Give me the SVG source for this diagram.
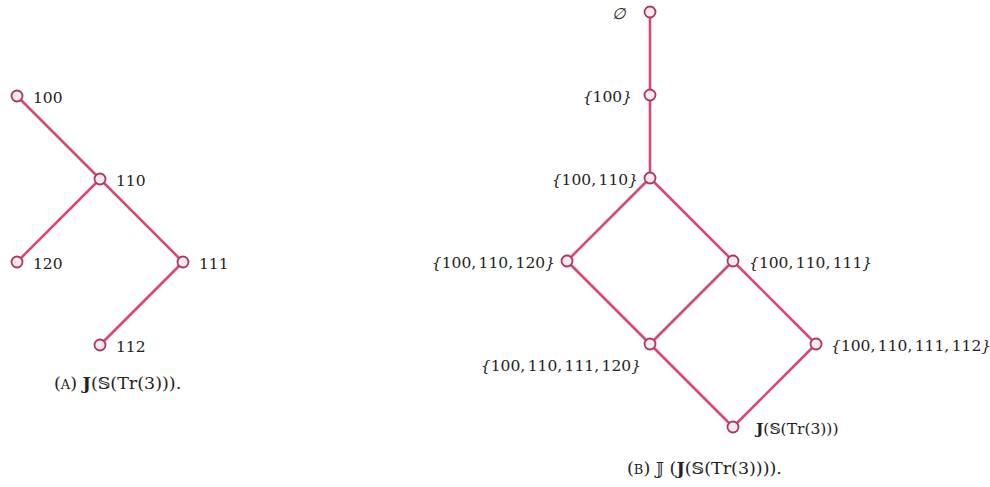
<svg xmlns="http://www.w3.org/2000/svg" width="990" height="487" viewBox="0 0 990 487">
<style>
.e{stroke:#d8496f;stroke-width:2.6;fill:none;stroke-linecap:round}
.n{fill:#f6eaef;stroke:#a8385f;stroke-width:1.8}
text{font-family:"DejaVu Serif","Liberation Serif",serif;font-size:15.5px;fill:#222}
.it{font-style:italic}
.b{font-weight:bold}
.sc{font-size:13px}
.set{word-spacing:-2.5px}
.cap{font-size:17.5px}
</style>
<rect width="990" height="487" fill="#fff"/>
<g id="edges">
<line class="e" x1="17" y1="96" x2="100" y2="179"/>
<line class="e" x1="100" y1="179" x2="17" y2="262"/>
<line class="e" x1="100" y1="179" x2="183" y2="262"/>
<line class="e" x1="183" y1="262" x2="100" y2="345"/>
<line class="e" x1="650" y1="12" x2="650" y2="95"/>
<line class="e" x1="650" y1="95" x2="650" y2="178"/>
<line class="e" x1="650" y1="178" x2="567" y2="261"/>
<line class="e" x1="650" y1="178" x2="733" y2="261"/>
<line class="e" x1="567" y1="261" x2="650" y2="344"/>
<line class="e" x1="733" y1="261" x2="650" y2="344"/>
<line class="e" x1="733" y1="261" x2="816" y2="344"/>
<line class="e" x1="650" y1="344" x2="733" y2="427"/>
<line class="e" x1="816" y1="344" x2="733" y2="427"/>
</g>
<g id="a100"><circle class="n" cx="17" cy="96" r="5.5"/><text x="33" y="103">100</text></g>
<g id="a110"><circle class="n" cx="100" cy="179" r="5.5"/><text x="116" y="186">110</text></g>
<g id="a120"><circle class="n" cx="17" cy="262" r="5.5"/><text x="33" y="269">120</text></g>
<g id="a111"><circle class="n" cx="183" cy="262" r="5.5"/><text x="199" y="269">111</text></g>
<g id="a112"><circle class="n" cx="100" cy="345" r="5.5"/><text x="116" y="352">112</text></g>
<text class="cap" x="54" y="389">(<tspan class="sc">A</tspan>) <tspan class="b">J</tspan>(𝕊(Tr(3))).</text>
<g id="b0"><circle class="n" cx="650" cy="12" r="5.5"/><text x="626" y="19" text-anchor="end" class="it">∅</text></g>
<g id="b1"><circle class="n" cx="650" cy="95" r="5.5"/><text x="632" y="102" text-anchor="end"><tspan class="it">{</tspan>100<tspan class="it">}</tspan></text></g>
<g id="b2"><circle class="n" cx="650" cy="178" r="5.5"/><text class="set" x="638" y="185" text-anchor="end"><tspan class="it">{</tspan>100, 110<tspan class="it">}</tspan></text></g>
<g id="b3"><circle class="n" cx="567" cy="261" r="5.5"/><text class="set" x="555" y="268" text-anchor="end"><tspan class="it">{</tspan>100, 110, 120<tspan class="it">}</tspan></text></g>
<g id="b4"><circle class="n" cx="733" cy="261" r="5.5"/><text class="set" x="749" y="268"><tspan class="it">{</tspan>100, 110, 111<tspan class="it">}</tspan></text></g>
<g id="b5"><circle class="n" cx="650" cy="344" r="5.5"/><text class="set" x="641" y="371" text-anchor="end"><tspan class="it">{</tspan>100, 110, 111, 120<tspan class="it">}</tspan></text></g>
<g id="b6"><circle class="n" cx="816" cy="344" r="5.5"/><text class="set" x="831" y="351"><tspan class="it">{</tspan>100, 110, 111, 112<tspan class="it">}</tspan></text></g>
<g id="b7"><circle class="n" cx="733" cy="427" r="5.5"/><text x="756" y="434"><tspan class="b">J</tspan>(𝕊(Tr(3)))</text></g>
<text class="cap" x="627" y="474">(<tspan class="sc">B</tspan>) 𝕁 (<tspan class="b">J</tspan>(𝕊(Tr(3)))).</text>
</svg>
